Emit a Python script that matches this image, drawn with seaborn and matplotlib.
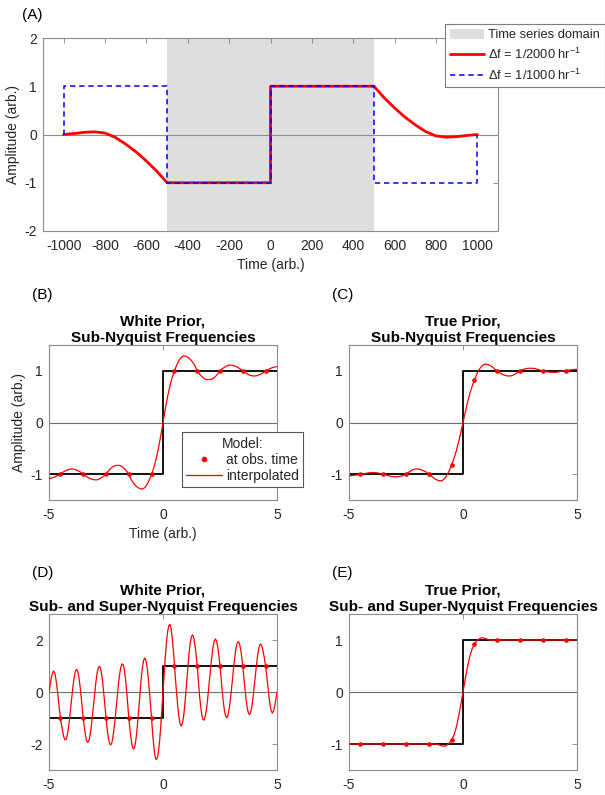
import numpy as np
import matplotlib
matplotlib.use("Agg")
import matplotlib.pyplot as plt
import seaborn as sns
from matplotlib.patches import Patch
from matplotlib.lines import Line2D

# ---------------- data ----------------
# Panel A
a_domain = [-500, 500]
a_red_x = [-1000, -950, -900, -850, -800, -750, -700, -650, -600, -550, -500,
           0, 0, 500, 550, 600, 650, 700, 750, 800, 850, 900, 950, 1000]
a_red_y = [0, 0.02, 0.045, 0.055, 0.03, -0.06, -0.2, -0.36, -0.55, -0.76, -1,
           -1, 1, 1, 0.76, 0.55, 0.36, 0.2, 0.06, -0.03, -0.055, -0.045, -0.02, 0]
a_blue_x = [-1000, -1000, -500, -500, 0, 0, 500, 500, 1000, 1000]
a_blue_y = [0, 1, 1, -1, -1, 1, 1, -1, -1, 0]
a_xticks = [-1000, -800, -600, -400, -200, 0, 200, 400, 600, 800, 1000]
a_yticks = [-2, -1, 0, 1, 2]

# Truth step (panels B-E)
truth_x = [-5, 0, 0, 5]
truth_y = [-1, -1, 1, 1]
obs_x = [-4.5, -3.5, -2.5, -1.5, -0.5, 0.5, 1.5, 2.5, 3.5, 4.5]

# Panel B: white prior, sub-Nyquist
b_obs = [-1, -1, -1, -1, -1, 1, 1, 1, 1, 1]
b_neg = [-1.08, -1.076, -1.063, -1.044, -1.019, -1.0, -0.964, -0.939, -0.919, -0.905,
         -0.90, -0.904, -0.917, -0.94, -0.967, -1.0, -1.03, -1.06, -1.085, -1.10,
         -1.11, -1.11, -1.095, -1.07, -1.04, -1.0, -0.94, -0.89, -0.855, -0.835,
         -0.83, -0.83, -0.85, -0.89, -0.94, -1.0, -1.10, -1.17, -1.22, -1.26,
         -1.28, -1.29, -1.26, -1.20, -1.11, -1.0, -0.87, -0.70, -0.50, -0.26]
b_pos = [0, 0.26, 0.50, 0.70, 0.87, 1.0, 1.11, 1.20, 1.26, 1.29,
         1.28, 1.26, 1.22, 1.17, 1.10, 1.0, 0.94, 0.89, 0.85, 0.83,
         0.83, 0.835, 0.855, 0.89, 0.94, 1.0, 1.04, 1.07, 1.095, 1.11,
         1.11, 1.10, 1.085, 1.06, 1.03, 1.0, 0.967, 0.94, 0.917, 0.904,
         0.90, 0.905, 0.919, 0.939, 0.964, 1.0, 1.019, 1.044, 1.063, 1.076, 1.08]

# Panel C: true prior, sub-Nyquist
c_obs = [-1, -1, -1, -1, -0.82, 0.82, 1, 1, 1, 1]
c_neg = [-1.03, -1.028, -1.024, -1.018, -1.01, -1.0, -0.995, -0.99, -0.98, -0.972,
         -0.97, -0.97, -0.973, -0.98, -0.99, -1.0, -1.01, -1.025, -1.04, -1.047,
         -1.05, -1.05, -1.045, -1.035, -1.02, -1.0, -0.97, -0.94, -0.915, -0.902,
         -0.90, -0.905, -0.92, -0.94, -0.965, -1.0, -1.03, -1.07, -1.10, -1.12,
         -1.13, -1.12, -1.08, -1.02, -0.93, -0.82, -0.70, -0.56, -0.39, -0.20]
c_pos = [0, 0.20, 0.39, 0.56, 0.70, 0.82, 0.93, 1.02, 1.08, 1.12,
         1.13, 1.12, 1.10, 1.07, 1.03, 1.0, 0.965, 0.94, 0.92, 0.905,
         0.90, 0.902, 0.915, 0.94, 0.97, 1.0, 1.02, 1.035, 1.045, 1.05,
         1.05, 1.047, 1.04, 1.025, 1.01, 1.0, 0.99, 0.98, 0.973, 0.97,
         0.97, 0.972, 0.98, 0.99, 0.995, 1.0, 1.01, 1.018, 1.024, 1.028, 1.03]

# Panel D: white prior, sub- and super-Nyquist
d_obs = [-1, -1, -1, -1, -1, 1, 1, 1, 1, 1]
d_neg = [0.00, 0.28, 0.55, 0.72, 0.81, 0.74, 0.52, 0.20, -0.22, -0.62,
         -1.00, -1.28, -1.52, -1.73, -1.84, -1.83, -1.67, -1.40, -1.04, -0.62,
         -0.19, 0.21, 0.55, 0.77, 0.87, 0.82, 0.64, 0.32, -0.08, -0.53,
         -1.00, -1.37, -1.66, -1.87, -1.94, -1.87, -1.67, -1.36, -0.96, -0.52,
         -0.07, 0.33, 0.67, 0.89, 0.99, 0.94, 0.74, 0.42, -0.02, -0.50,
         -1.00, -1.41, -1.74, -1.96, -2.04, -1.97, -1.76, -1.44, -1.03, -0.57,
         -0.10, 0.34, 0.70, 0.95, 1.08, 1.06, 0.88, 0.55, 0.11, -0.46,
         -1.00, -1.45, -1.81, -2.08, -2.20, -2.14, -1.92, -1.54, -1.05, -0.50,
         0.05, 0.56, 0.96, 1.22, 1.31, 1.22, 0.98, 0.58, 0.08, -0.45,
         -1.05, -1.65, -2.12, -2.47, -2.60, -2.54, -2.30, -1.89, -1.34, -0.69]
d_pos = [0.00, 0.69, 1.34, 1.89, 2.30, 2.54, 2.60, 2.47, 2.12, 1.65,
         1.05, 0.45, -0.08, -0.58, -0.98, -1.22, -1.31, -1.22, -0.96, -0.56,
         -0.05, 0.50, 1.05, 1.54, 1.92, 2.14, 2.20, 2.08, 1.81, 1.45,
         1.00, 0.46, -0.11, -0.55, -0.88, -1.06, -1.08, -0.95, -0.70, -0.34,
         0.10, 0.57, 1.03, 1.44, 1.76, 1.97, 2.04, 1.96, 1.74, 1.41,
         1.00, 0.50, 0.02, -0.42, -0.74, -0.94, -0.99, -0.89, -0.67, -0.33,
         0.07, 0.52, 0.96, 1.36, 1.67, 1.87, 1.94, 1.87, 1.66, 1.37,
         1.00, 0.53, 0.08, -0.32, -0.64, -0.82, -0.87, -0.77, -0.55, -0.21,
         0.19, 0.62, 1.04, 1.40, 1.67, 1.83, 1.84, 1.73, 1.52, 1.28,
         1.00, 0.62, 0.22, -0.20, -0.52, -0.74, -0.81, -0.72, -0.55, -0.28, 0.00]

# Panel E: true prior, sub- and super-Nyquist
e_obs = [-1, -1, -1, -1, -0.92, 0.92, 1, 1, 1, 1]
e_neg = [-1.0, -1.0, -1.0, -1.0, -1.0, -1.0, -1.0, -1.0, -1.0, -1.0,
         -1.0, -1.0, -1.0, -1.0, -1.0, -1.0, -1.0, -1.0, -1.0, -1.0,
         -1.0, -1.0, -1.0, -1.0, -1.0, -1.0, -1.0, -1.0, -1.0, -1.0,
         -1.0, -1.0, -1.0, -1.0, -1.0, -1.0, -0.997, -0.997, -1.0, -1.01,
         -1.025, -1.04, -1.04, -1.02, -0.98, -0.92, -0.83, -0.69, -0.49, -0.25]
e_pos = [0, 0.25, 0.49, 0.69, 0.83, 0.92, 0.98, 1.02, 1.04, 1.04,
         1.025, 1.01, 1.0, 0.997, 0.997, 1.0, 1.0, 1.0, 1.0, 1.0,
         1.0, 1.0, 1.0, 1.0, 1.0, 1.0, 1.0, 1.0, 1.0, 1.0,
         1.0, 1.0, 1.0, 1.0, 1.0, 1.0, 1.0, 1.0, 1.0, 1.0,
         1.0, 1.0, 1.0, 1.0, 1.0, 1.0, 1.0, 1.0, 1.0, 1.0, 1.0]

t_coarse = np.linspace(-5, 5, len(b_neg) + len(b_pos))
t_fine = np.linspace(-5, 5, len(d_neg) + len(d_pos))

titles = {
    "B": "White Prior,\nSub-Nyquist Frequencies",
    "C": "True Prior,\nSub-Nyquist Frequencies",
    "D": "White Prior,\nSub- and Super-Nyquist Frequencies",
    "E": "True Prior,\nSub- and Super-Nyquist Frequencies",
}

# ---------------- style ----------------
sns.set_theme(style="white")
plt.rcParams["font.family"] = ["Liberation Sans", "DejaVu Sans"]
plt.rcParams["mathtext.fontset"] = "custom"
plt.rcParams["mathtext.rm"] = "Liberation Sans"
plt.rcParams["mathtext.it"] = "Liberation Sans:italic"
plt.rcParams["mathtext.bf"] = "Liberation Sans:bold"
plt.rcParams["axes.unicode_minus"] = False

W, H = 605, 795
fig = plt.figure(figsize=(W / 100, H / 100), dpi=100)


def box(l, t, r, b):
    return [l / W, 1 - b / H, (r - l) / W, (b - t) / H]


def style(ax, xlim, ylim, xticks, yticks):
    ax.set_xlim(xlim)
    ax.set_ylim(ylim)
    ax.set_xticks(xticks)
    ax.set_yticks(yticks)
    ax.tick_params(axis="both", direction="in", top=True, right=True, length=3.5,
                   width=0.6, color="#7f7f7f", labelcolor="#262626", labelsize=10)
    ax.tick_params(axis="x", pad=5.5)
    ax.tick_params(axis="y", pad=4.5)
    for s in ax.spines.values():
        s.set_color("#8c8c8c")
        s.set_linewidth(0.8)
        s.set_visible(True)
    ax.set_xlabel("")
    ax.set_ylabel("")


# ---------------- Panel A ----------------
axA = fig.add_axes(box(43, 38, 498, 231))
axA.axvspan(a_domain[0], a_domain[1], color="#dedede", lw=0, zorder=0)
axA.axhline(0, color="#8c8c8c", lw=0.8, zorder=1)
sns.lineplot(x=a_red_x, y=a_red_y, ax=axA, color="red", lw=2.0, sort=False,
             estimator=None, zorder=3)
sns.lineplot(x=a_blue_x, y=a_blue_y, ax=axA, color="blue", lw=1.1, sort=False,
             estimator=None, dashes=False, zorder=4)
axA.lines[-1].set_dashes((3.5, 2.5))
style(axA, (-1100, 1100), (-2, 2), a_xticks, a_yticks)
axA.set_xlabel("Time (arb.)", fontsize=10, color="#262626", labelpad=4)
axA.set_ylabel("Amplitude (arb.)", fontsize=10, color="#262626", labelpad=3)
handlesA = [Patch(facecolor="#dedede", edgecolor="none"),
            Line2D([], [], color="red", lw=2.0),
            Line2D([], [], color="blue", lw=1.1, dashes=(3.5, 2.5))]
labelsA = ["Time series domain", "Δf = 1/2000 hr$^{-1}$", "Δf = 1/1000 hr$^{-1}$"]
legA = axA.legend(handlesA, labelsA, loc="upper left",
                  bbox_to_anchor=(445 / W, 1 - 24 / H), bbox_transform=fig.transFigure,
                  frameon=True, fancybox=False, edgecolor="#7f7f7f", framealpha=1,
                  fontsize=9.3, handlelength=2.7, handleheight=0.9, handletextpad=0.3,
                  labelspacing=0.42, borderpad=0.35, borderaxespad=0)
legA.get_frame().set_linewidth(0.8)

# ---------------- Panels B-E ----------------
panels = [
    ("B", box(49, 345, 277, 500), b_neg + b_pos, t_coarse, b_obs, (-1.5, 1.5), [-1, 0, 1]),
    ("C", box(349, 345, 577, 500), c_neg + c_pos, t_coarse, c_obs, (-1.5, 1.5), [-1, 0, 1]),
    ("D", box(49, 614, 277, 770), d_neg + d_pos, t_fine, d_obs, (-3, 3), [-2, 0, 2]),
    ("E", box(349, 614, 577, 770), e_neg + e_pos, t_coarse, e_obs, (-1.5, 1.5), [-1, 0, 1]),
]
axes = {}
for key, rect, curve, tgrid, obs, ylim, yt in panels:
    ax = fig.add_axes(rect)
    axes[key] = ax
    ax.axhline(0, color="#6e6e6e", lw=0.8, zorder=1)
    sns.lineplot(x=truth_x, y=truth_y, ax=ax, color="#111111", lw=1.4, sort=False,
                 estimator=None, zorder=2)
    sns.lineplot(x=tgrid, y=curve, ax=ax, color="red", lw=0.9, sort=False,
                 estimator=None, zorder=3)
    sns.scatterplot(x=obs_x, y=obs, ax=ax, color="red", s=11, linewidth=0, zorder=4)
    style(ax, (-5, 5), ylim, [-5, 0, 5], yt)
    ax.set_title(titles[key], fontsize=11, fontweight="bold", pad=2, linespacing=1.25,
                 color="black")

axes["B"].set_xlabel("Time (arb.)", fontsize=10, color="#262626", labelpad=4)
axes["B"].set_ylabel("Amplitude (arb.)", fontsize=10, color="#262626", labelpad=3)
handlesB = [Line2D([], [], color="red", marker=".", ls="none", markersize=6),
            Line2D([], [], color="red", lw=0.9)]
legB = axes["B"].legend(handlesB, ["at obs. time", "interpolated"], title="Model:",
                        loc="lower left", bbox_to_anchor=(0.583, 0.084),
                        frameon=True, fancybox=False, edgecolor="#555555", framealpha=1,
                        fontsize=10, title_fontsize=10, handlelength=2.6,
                        handletextpad=0.3, labelspacing=0.15, borderpad=0.3,
                        borderaxespad=0)
legB.get_frame().set_linewidth(0.8)

# panel letters
for lab, x, y in [("(A)", 22, 15), ("(B)", 32, 295), ("(C)", 332, 295),
                  ("(D)", 32, 573), ("(E)", 332, 573)]:
    fig.text(x / W, 1 - y / H, lab, fontsize=11, ha="left", va="center", color="black")

fig.savefig("out.png", dpi=100)
